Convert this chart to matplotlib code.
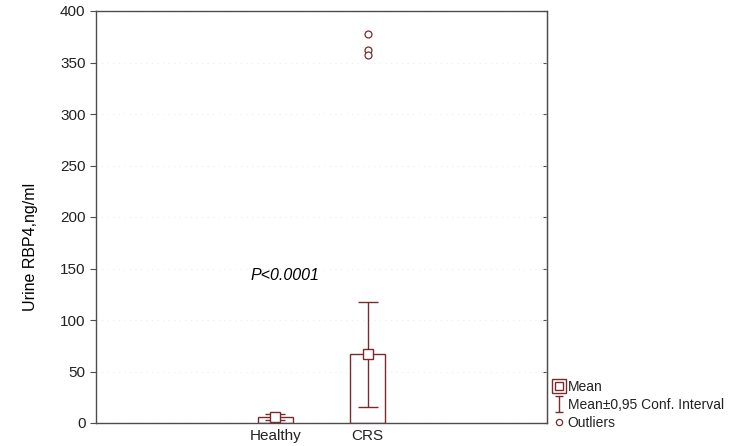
import matplotlib
matplotlib.use("Agg")
import matplotlib.pyplot as plt
from matplotlib.lines import Line2D
from matplotlib.path import Path
import numpy as np

plt.rcParams['font.family'] = ['Liberation Sans', 'DejaVu Sans']

categories = ["Healthy", "CRS"]
means = [5.5, 67.0]
ci_low = [2.5, 15.5]
ci_high = [8.5, 117.0]
outliers_crs = [378.0, 362.0, 357.0]
yticks = [0, 50, 100, 150, 200, 250, 300, 350, 400]
p_text = "P<0.0001"

col = "#7a2a2e"
spine_col = "#4d4d4d"

fig = plt.figure(figsize=(7.29, 4.46), dpi=100)
ax = fig.add_axes([96/729, 23/446, (547-96)/729, (423-11)/446])

x = np.arange(len(categories))
ax.bar(x, means, width=0.39, facecolor="white", edgecolor=col, linewidth=1.0, zorder=2)
yerr = [np.array(means) - np.array(ci_low), np.array(ci_high) - np.array(means)]
eb = ax.errorbar(x, means, yerr=yerr, fmt='none', ecolor=col, elinewidth=1.0,
                 capsize=7, capthick=1.0, zorder=3)
ax.plot(x, means, linestyle='none', marker='s', markersize=7, markerfacecolor='white',
        markeredgecolor=col, markeredgewidth=1.0, zorder=4)
ax.plot([1]*len(outliers_crs), outliers_crs, linestyle='none', marker='o', markersize=5,
        markerfacecolor='white', markeredgecolor=col, markeredgewidth=0.9, zorder=4)

ax.text(0.1, 143, p_text, fontsize=11.5, style='italic', ha='center', va='center')

ax.set_xlim(-1.95, 2.95)
ax.set_ylim(0, 400)
ax.set_yticks(yticks)
ax.set_xticks(x)
ax.set_xticklabels(categories, fontsize=11, color='#222222')
ax.tick_params(axis='y', labelsize=11, direction='out', length=4, color=spine_col, labelcolor='#222222')
ax.tick_params(axis='x', length=0, pad=4)
for s in ax.spines.values():
    s.set_color(spine_col)
    s.set_linewidth(1.0)
ax.yaxis.grid(True, linestyle=(0, (1, 4)), color='#ececec', linewidth=0.8, zorder=0)
ax.set_axisbelow(True)
ax.set_ylabel("Urine RBP4,ng/ml", fontsize=11.5)
ax.yaxis.set_label_coords((30 - 96) / 451, (423 - 247) / 412)
ax.yaxis.label.set_va('center')

# right ticks inward
ax2 = ax.secondary_yaxis('right')
ax2.set_yticks(yticks)
ax2.set_yticklabels([])
ax2.tick_params(direction='in', length=3, color=spine_col)
ax2.spines['right'].set_color(spine_col)

ci_path = Path([(-0.5, -1), (0.5, -1), (0, -1), (0, 1), (-0.5, 1), (0.5, 1)],
               [Path.MOVETO, Path.LINETO, Path.MOVETO, Path.LINETO, Path.MOVETO, Path.LINETO])
h_mean = (Line2D([], [], linestyle='none', marker='s', markersize=10, markerfacecolor='white',
                 markeredgecolor=col, markeredgewidth=1.0),
          Line2D([], [], linestyle='none', marker='s', markersize=5.5, markerfacecolor='white',
                 markeredgecolor=col, markeredgewidth=1.0))
h_ci = Line2D([], [], linestyle='none', marker=ci_path, markersize=11, markerfacecolor='none',
              markeredgecolor=col, markeredgewidth=1.0)
h_out = Line2D([], [], linestyle='none', marker='o', markersize=4.5, markerfacecolor='white',
               markeredgecolor=col, markeredgewidth=0.9)
leg = fig.legend([h_mean, h_ci, h_out], ["Mean", "Mean\u00b10,95 Conf. Interval", "Outliers"],
                 loc='lower left', bbox_to_anchor=(553/729, 16/446), frameon=False,
                 fontsize=10, handlelength=0.8, handletextpad=0.25, labelspacing=0.3,
                 borderpad=0.0, borderaxespad=0.0)
for t in leg.get_texts():
    t.set_color('#222222')

fig.savefig("out.png", dpi=100)
